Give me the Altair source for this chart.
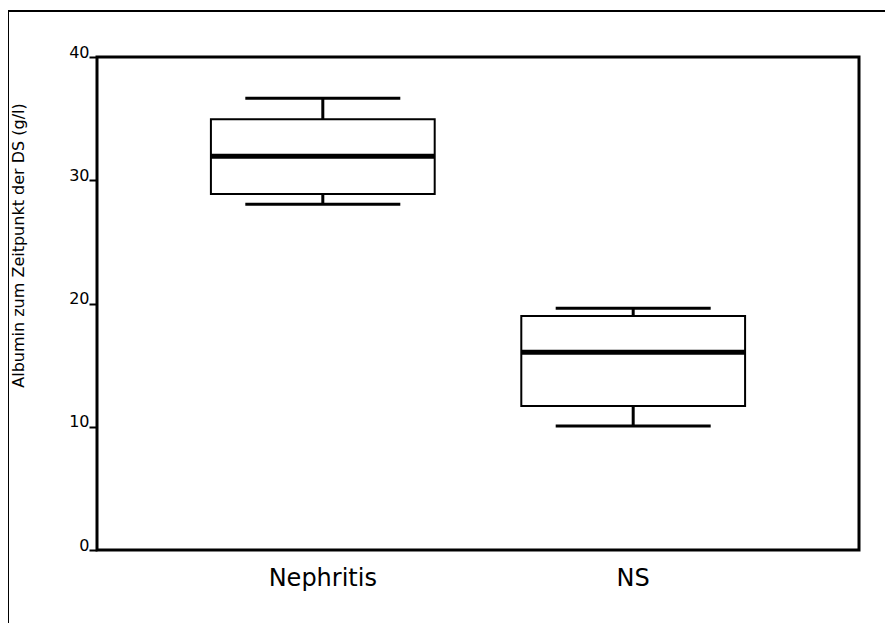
import altair as alt
import pandas as pd

groups = ["Nephritis", "NS"]
whisker_low = [28.05, 10.06]
q1 = [28.88, 11.68]
median = [31.94, 16.04]
q3 = [34.95, 18.99]
whisker_high = [36.65, 19.61]

y_ticks = [0, 10, 20, 30, 40]
y_title = "Albumin zum Zeitpunkt der DS (g/l)"

df = pd.DataFrame({
    "group": groups,
    "low": whisker_low,
    "q1": q1,
    "median": median,
    "q3": q3,
    "high": whisker_high,
})

FONT = "DejaVu Sans"

x_enc = alt.X(
    "group:N",
    sort=groups,
    scale=alt.Scale(paddingInner=0.279, paddingOuter=0.367),
    axis=alt.Axis(
        title=None, ticks=False, domain=False, labelAngle=0,
        labelFontSize=24, labelFont=FONT, labelColor="black",
        labelPadding=16, labelFontWeight="normal",
    ),
)
y_scale = alt.Scale(domain=[0, 40], nice=False, zero=True)
y_axis = alt.Axis(
    values=y_ticks, grid=False, domain=False,
    tickSize=8, tickWidth=2, tickColor="black",
    labelFontSize=16, labelFont=FONT, labelColor="black",
    labelBaseline="alphabetic", labelPadding=0, labelAlign="right",
    title=y_title, titleFontSize=16, titleFont=FONT, titleFontWeight="normal",
    titleColor="black", titleX=-79, titleY=188, titleBaseline="middle",
)

base = alt.Chart(df)

frame = base.mark_rect(filled=False, stroke="black", strokeWidth=2).encode(
    x=alt.value(-89), y=alt.value(-46), x2=alt.value(1200), y2=alt.value(1200)
)

whisk_up = base.mark_rule(color="black", strokeWidth=3).encode(
    x=x_enc, y=alt.Y("q3:Q", scale=y_scale, axis=y_axis), y2="high:Q"
)
whisk_dn = base.mark_rule(color="black", strokeWidth=3).encode(
    x=x_enc, y=alt.Y("low:Q", scale=y_scale, axis=y_axis), y2="q1:Q"
)
box = base.mark_bar(fill="white", stroke="black", strokeWidth=2).encode(
    x=x_enc, y=alt.Y("q1:Q", scale=y_scale, axis=y_axis), y2="q3:Q"
)
med = base.mark_tick(color="black", opacity=1, thickness=5, size=224).encode(
    x=x_enc, y=alt.Y("median:Q", scale=y_scale, axis=y_axis)
)
cap_hi = base.mark_tick(color="black", opacity=1, thickness=3, size=155).encode(
    x=x_enc, y=alt.Y("high:Q", scale=y_scale, axis=y_axis)
)
cap_lo = base.mark_tick(color="black", opacity=1, thickness=3, size=155).encode(
    x=x_enc, y=alt.Y("low:Q", scale=y_scale, axis=y_axis)
)

chart = alt.layer(frame, whisk_up, whisk_dn, box, med, cap_hi, cap_lo).properties(
    width=762,
    height=493,
    autosize=alt.AutoSizeParams(type="none"),
    padding={"left": 89, "top": 49, "right": 26, "bottom": 73},
    background="white",
).configure_view(stroke="black", strokeWidth=3)

chart.save("out.html", embed_options={"renderer": "svg", "actions": False})
